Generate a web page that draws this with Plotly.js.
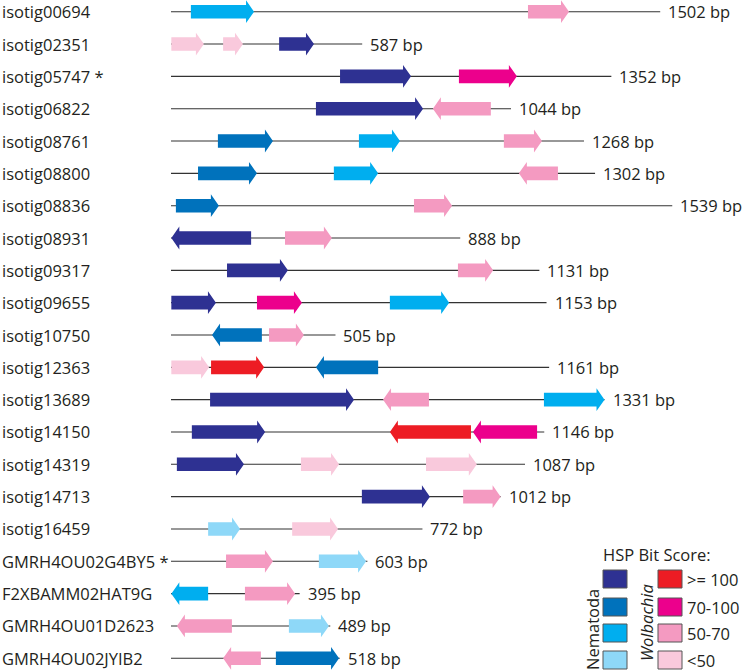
<!DOCTYPE html>
<html>
<head>
<meta charset="utf-8">
<script src="https://cdn.plot.ly/plotly-3.0.1.min.js"></script>
<style>html,body{margin:0;padding:0;background:#fff;}#chart{width:742px;height:671px;}</style>
</head>
<body>
<div id="chart"></div>
<script>
// ---- data ----
const contigNames = ["isotig00694","isotig02351","isotig05747 *","isotig06822","isotig08761","isotig08800","isotig08836","isotig08931","isotig09317","isotig09655","isotig10750","isotig12363","isotig13689","isotig14150","isotig14319","isotig14713","isotig16459","GMRH4OU02G4BY5 *","F2XBAMM02HAT9G","GMRH4OU01D2623","GMRH4OU02JYIB2"];
const contigLengths = [1502,587,1352,1044,1268,1302,1539,888,1131,1153,505,1161,1331,1146,1087,1012,772,603,395,489,518];

// HSPs: contig row index, start (bp), end (bp), strand, score class
const hspRow    = [0,0, 1,1,1, 2,2, 3,3, 4,4,4, 5,5,5, 6,6, 7,7, 8,8, 9,9,9, 10,10, 11,11,11, 12,12,12, 13,13,13, 14,14,14, 15,15, 16,16, 17,17, 18,18, 19,19, 20,20];
const hspStart  = [61,1096, 1,160,332, 519,884, 445,804, 144,577,1022, 83,500,1068, 15,746, 1,350, 172,881, 1,264,672, 126,301, 1,123,445, 120,651,1145, 64,672,927, 18,399,783, 586,897, 114,372, 169,454, 1,227, 18,362, 160,322];
const hspEnd    = [255,1222, 101,221,439, 737,1062, 774,982, 313,703,1139, 264,636,1188, 147,863, 246,494, 359,989, 138,402,854, 279,408, 117,286,636, 562,792,1331, 289,921,1124, 224,516,939, 795,1012, 212,513, 313,599, 114,381, 187,485, 276,516];
const hspStrand = ["+","+", "+","+","+", "+","+", "+","-", "+","+","+", "+","+","-", "+","+", "-","+", "+","+", "+","+","+", "-","+", "+","+","-", "+","-","+", "+","-","-", "+","+","+", "+","+", "+","+", "+","+", "-","+", "-","+", "-","+"];
const hspClass  = ["N50","W50", "W0","W0","N100", "N100","W70", "N100","W50", "N70","N50","W50", "N70","N50","W50", "N70","W50", "N100","W50", "N100","W50", "N100","W70","N50", "N70","W50", "W0","W100","N70", "N100","W50","N50", "N100","W100","W70", "N100","W0","W0", "N100","W50", "N0","W0", "W50","N0", "N50","W50", "W50","N0", "W50","N70"];

const classKeys   = ["N100","N70","N50","N0","W100","W70","W50","W0"];
const classColors = ["#2e3192","#0072bc","#00aeef","#8ed8f8","#ed1c24","#ec008c","#f49ac1","#f9c9dc"];
const scoreLabels = [">= 100","70-100","50-70","<50"];

// ---- layout geometry ----
const W = 742, H = 671;
const x0px = 171, pxPerBp = 0.3257;
const row0px = 11.7, rowPx = 32.33;
const xr = [-x0px / pxPerBp, (W - x0px) / pxPerBp];
const yr = [(contigNames.length - 1) + (H - (row0px + rowPx * (contigNames.length - 1))) / rowPx, -row0px / rowPx];
const bodyHalf = 6.8 / rowPx, headHalf = 11.4 / rowPx, headLen = 8 / pxPerBp;
const FONT = "Open Sans, Noto Sans, sans-serif";
const FS = 16.5;

const traces = [];
// contig lines
const lx = [], ly = [];
contigLengths.forEach((L, i) => { lx.push(0, L, null); ly.push(i, i, null); });
traces.push({x: lx, y: ly, mode: "lines", line: {color: "#333333", width: 1.1}, hoverinfo: "skip", showlegend: false});

// arrows
for (let k = 0; k < hspRow.length; k++) {
  const y = hspRow[k], s = hspStart[k], e = hspEnd[k];
  const h = Math.min(headLen, (e - s) * 0.6);
  let xs, ys;
  if (hspStrand[k] === "+") {
    xs = [s, e - h, e - h, e, e - h, e - h, s, s];
  } else {
    xs = [e, s + h, s + h, s, s + h, s + h, e, e];
  }
  ys = [y - bodyHalf, y - bodyHalf, y - headHalf, y, y + headHalf, y + bodyHalf, y + bodyHalf, y - bodyHalf];
  const col = classColors[classKeys.indexOf(hspClass[k])];
  traces.push({x: xs, y: ys, mode: "lines", fill: "toself", fillcolor: col, line: {width: 0, color: col}, hoverinfo: "skip", showlegend: false});
}

const annotations = [];
contigNames.forEach((n, i) => {
  annotations.push({xref: "paper", yref: "y", x: 0, y: i, xanchor: "left", yanchor: "middle", text: n, showarrow: false, font: {family: FONT, size: FS, color: "#231f20"}});
  annotations.push({xref: "x", yref: "y", x: contigLengths[i], y: i, xanchor: "left", yanchor: "middle", xshift: 6, text: contigLengths[i] + " bp", showarrow: false, font: {family: FONT, size: FS, color: "#231f20"}});
});

// legend (paper coords from pixels)
const px = v => v / W, py = v => 1 - v / H;
const shapes = [];
annotations.push({xref: "paper", yref: "paper", x: px(601), y: py(554), xanchor: "left", yanchor: "middle", text: "HSP Bit Score:", showarrow: false, font: {family: FONT, size: FS, color: "#231f20"}});
const legRowCy = [579, 607, 633, 660];
for (let r = 0; r < 4; r++) {
  const cy = legRowCy[r];
  [[603, classColors[r]], [658, classColors[4 + r]]].forEach(([lx0, c]) => {
    shapes.push({type: "rect", xref: "paper", yref: "paper", x0: px(lx0), x1: px(lx0 + 24), y0: py(cy + 9), y1: py(cy - 9), fillcolor: c, line: {color: "#555555", width: 1}});
  });
  annotations.push({xref: "paper", yref: "paper", x: px(685), y: py(cy), xanchor: "left", yanchor: "middle", text: scoreLabels[r], showarrow: false, font: {family: FONT, size: FS, color: "#231f20"}});
}
annotations.push({xref: "paper", yref: "paper", x: px(592), y: py(630), xanchor: "center", yanchor: "middle", textangle: -90, text: "Nematoda", showarrow: false, font: {family: FONT, size: FS, color: "#231f20"}});
annotations.push({xref: "paper", yref: "paper", x: px(646), y: py(623), xanchor: "center", yanchor: "middle", textangle: -90, text: "<i>Wolbachia</i>", showarrow: false, font: {family: FONT, size: FS, color: "#231f20"}});

const layout = {
  width: W, height: H,
  margin: {l: 0, r: 0, t: 0, b: 0},
  paper_bgcolor: "#ffffff", plot_bgcolor: "#ffffff",
  xaxis: {range: xr, visible: false, fixedrange: true},
  yaxis: {range: yr, visible: false, fixedrange: true},
  showlegend: false,
  annotations: annotations,
  shapes: shapes
};
Plotly.newPlot("chart", traces, layout, {staticPlot: true, displayModeBar: false});
</script>
</body>
</html>
